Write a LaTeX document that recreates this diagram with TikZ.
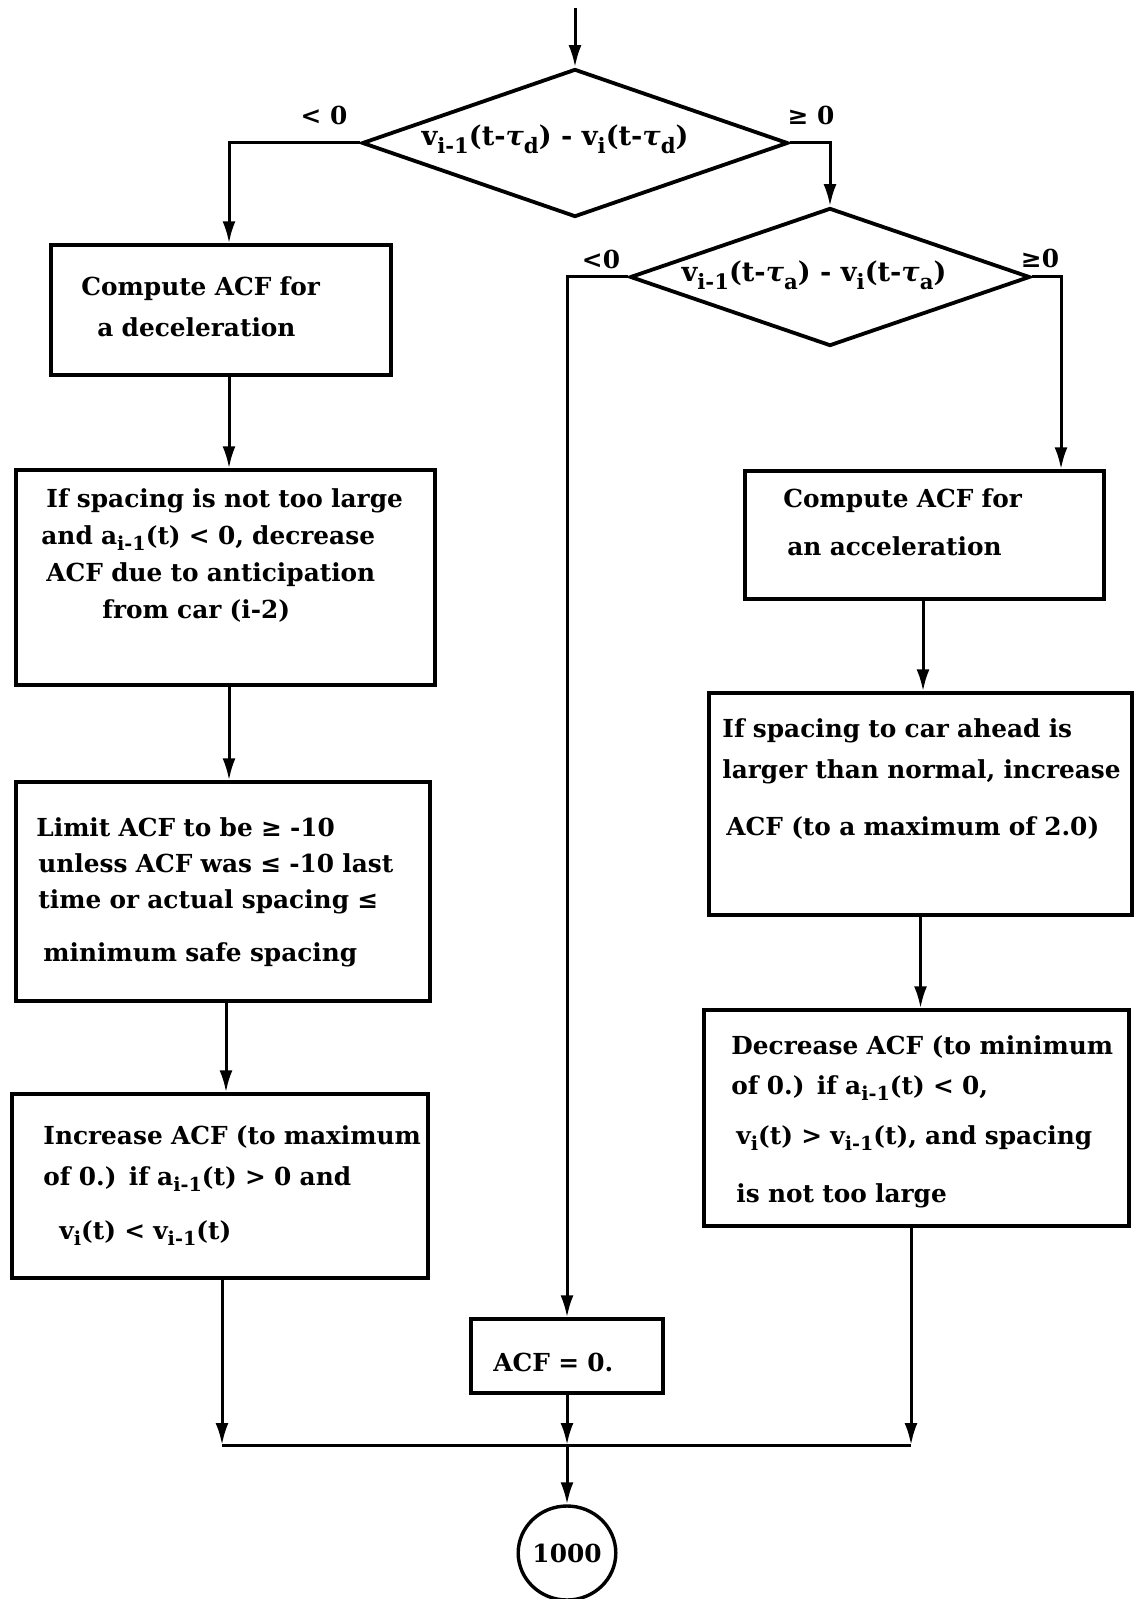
\documentclass[tikz,border=0pt]{standalone}
\usepackage{fontspec}
\setmainfont{DejaVu Serif}
\usetikzlibrary{arrows.meta,shapes.geometric}
% lowered, slightly smaller index text (box text and decision text)
\newcommand\sbs[1]{\raisebox{-0.5ex}{\fontsize{9.6}{10}\selectfont #1}}
\newcommand\sbsd[1]{\raisebox{-0.5ex}{\fontsize{10.6}{11}\selectfont #1}}
\begin{document}
\begin{tikzpicture}[x=0.5pt,y=-0.5pt,
  box/.style={draw, line width=1.7pt, rectangle, inner sep=0pt},
  dec/.style={draw, line width=1.9pt, diamond, inner sep=0pt},
  conn/.style={line width=1.5pt},
  arr/.style={conn, -{Latex[length=11pt,width=6.5pt]}},
  txt/.style={inner sep=0pt, anchor=base west, align=left, text width=215pt,
    font=\bfseries\fontsize{12.4}{18}\selectfont},
  lbl/.style={inner sep=0pt, anchor=base, font=\bfseries\fontsize{12.4}{18}\selectfont},
  dlbl/.style={inner sep=0pt, anchor=base, font=\bfseries\fontsize{13.6}{18}\selectfont},
]
\useasboundingbox (0,0) rectangle (1134,1599);

% decisions
\node[dec, minimum width=213pt, minimum height=74pt] (D1) at (575,143) {};
\node[dec, minimum width=200pt, minimum height=69pt] (D2) at (830,277) {};

% left column
\node[box, minimum width=170pt,   minimum height=65pt]    (L1) at (221,310) {};
\node[box, minimum width=209.5pt, minimum height=107.5pt] (L2) at (225.5,577.5) {};
\node[box, minimum width=207pt,   minimum height=109.5pt] (L3) at (223,891.5) {};
\node[box, minimum width=208pt,   minimum height=92pt]    (L4) at (220,1186) {};

% right column
\node[box, minimum width=179.5pt, minimum height=64pt]  (R1) at (924.5,535) {};
\node[box, minimum width=211.5pt, minimum height=111pt] (R2) at (920.5,804) {};
\node[box, minimum width=212.5pt, minimum height=108pt] (R3) at (916.5,1118) {};

% middle
\node[box, minimum width=96pt, minimum height=37pt] (A0) at (567,1356) {};
\node[draw, line width=1.7pt, ellipse, inner sep=0pt, minimum width=48pt, minimum height=47pt,
  font=\bfseries\fontsize{12.4}{18}\selectfont] (End) at (567,1553) {1000};

\coordinate (start) at (575,8);
\coordinate (mid) at (567,1445);

% texts
\node[dlbl] (D1t) at (555,146)
  {v\sbsd{i-1}(t-\textit{τ}\sbsd{d}) - v\sbsd{i}(t-\textit{τ}\sbsd{d})};
\node[dlbl] (D2t) at (814,282)
  {v\sbsd{i-1}(t-\textit{τ}\sbsd{a}) - v\sbsd{i}(t-\textit{τ}\sbsd{a})};

\node[lbl] (D1l) at (324,125) {< 0};
\node[lbl] (D1r) at (811,125) {≥ 0};
\node[lbl] (D2l) at (601,269) {<0};
\node[lbl] (D2r) at (1040,268) {≥0};

\node[txt] (L1t) at (81,296)
  {Compute ACF for\\[2.5pt]\hspace*{8pt}a deceleration};
\node[txt] (L2t) at (41,507)
  {\hspace*{2.5pt}If spacing is not too large\\[0.5pt]
   and a\sbs{i-1}(t) < 0, decrease\\[0.5pt]
   \hspace*{2.5pt}ACF due to anticipation\\[0.5pt]
   \hspace*{30.5pt}from car (i-2)};
\node[txt] (L3t) at (36,836)
  {Limit ACF to be ≥ -10\\
   \hspace*{1pt}unless ACF was ≤ -10 last\\
   \hspace*{1pt}time or actual spacing ≤\\[8.5pt]
   \hspace*{3.5pt}minimum safe spacing};
\node[txt] (L4t) at (43,1144)
  {Increase ACF (to maximum\\[2.5pt]
   of 0.) if a\sbs{i-1}(t) > 0 and\\[9pt]
   \hspace*{8pt}v\sbs{i}(t) < v\sbs{i-1}(t)};

\node[txt] (R1t) at (783,507)
  {Compute ACF for\\[6pt]\hspace*{2pt}an acceleration};
\node[txt] (R2t) at (722,737)
  {If spacing to car ahead is\\[2.5pt]
   larger than normal, increase\\[10.5pt]
   \hspace*{2pt}ACF (to a maximum of 2.0)};
\node[txt] (R3t) at (731,1054)
  {Decrease ACF (to minimum\\[2pt]
   of 0.) if a\sbs{i-1}(t) < 0,\\[7pt]
   \hspace*{2.5pt}v\sbs{i}(t) > v\sbs{i-1}(t), and spacing\\[11pt]
   \hspace*{2.5pt}is not too large};

\node[txt] (A0t) at (493,1371) {ACF = 0.};

% connectors
\draw[arr] (start) -- (D1.north);
\draw[arr] (D1.west) -| ([xshift=4pt]L1.north);
\draw[arr] (D1.east) -| (D2.north);
\draw[arr] (D2.west) -| (A0.north);
\draw[arr] (D2.east) -| ([xshift=68.25pt]R1.north);

\draw[arr] ([xshift=4pt]L1.south) -- ([xshift=4pt]L1.south |- L2.north);
\draw[arr] ([xshift=1.75pt]L2.south) -- ([xshift=1.75pt]L2.south |- L3.north);
\draw[arr] ([xshift=1.5pt]L3.south) -- ([xshift=1.5pt]L3.south |- L4.north);
\draw[arr] ([xshift=1pt]L4.south) -- ([xshift=1pt]L4.south |- mid);

\draw[arr] ([xshift=-0.75pt]R1.south) -- ([xshift=-0.75pt]R1.south |- R2.north);
\draw[arr] (R2.south) -- (R2.south |- R3.north);
\draw[arr] ([xshift=-2.75pt]R3.south) -- ([xshift=-2.75pt]R3.south |- mid);

\draw[arr] (A0.south) -- (mid);
\draw[conn] ([xshift=1pt]L4.south |- mid) -- ([xshift=-2.75pt]R3.south |- mid);
\draw[arr] (mid) -- (End.north);
\end{tikzpicture}
\end{document}
